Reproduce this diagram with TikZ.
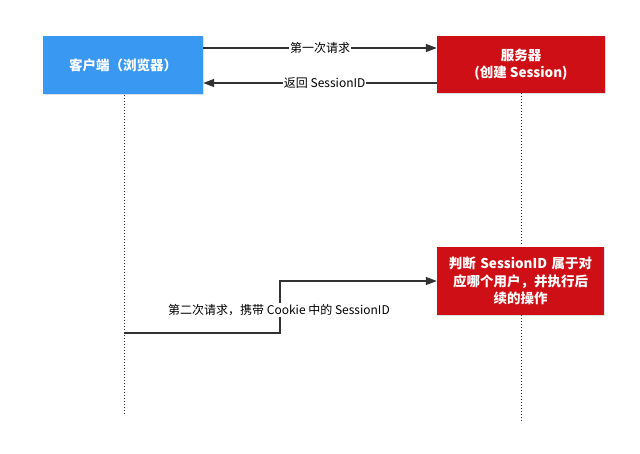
\documentclass[tikz,border=0pt]{standalone}
\usepackage{fontspec}
\setmainfont{Noto Sans CJK SC}
\usetikzlibrary{arrows.meta,shadows}
\definecolor{cblue}{RGB}{56,152,242}
\definecolor{sred}{RGB}{206,16,22}
\definecolor{lineg}{RGB}{50,50,50}
\tikzset{
  boxstyle/.style={draw=none, minimum width=#1, align=center, text=white, font=\fontsize{13.5}{17.5}\selectfont\bfseries,
    drop shadow={shadow xshift=0.8pt, shadow yshift=-0.8pt, opacity=0.25}},
  lifeline/.style={draw=lineg, line width=1pt, dotted},
  msg/.style={draw=lineg, line width=1.3pt, -{Triangle[length=11pt,width=8pt]}},
  lbl/.style={fill=white, inner sep=1pt, font=\fontsize{12}{14}\selectfont, text=black}
}
\begin{document}
\begin{tikzpicture}[x=1pt,y=-1pt]
\useasboundingbox[fill=white] (0,0) rectangle (640,453);
\node[boxstyle=160pt, minimum height=58pt, fill=cblue] (client) at (123,65) {客户端（浏览器）};
\node[boxstyle=168pt, minimum height=57pt, fill=sred] (server) at (521,64.5) {服务器\\(创建 Session)};
\node[boxstyle=167pt, minimum height=68pt, fill=sred, text width=160pt, inner sep=0pt] (judge) at (520.5,281) {判断 SessionID 属于对\\应哪个用户，并执行后\\续的操作};
\coordinate (cend) at (124,415);
\coordinate (send) at (521,423);
\draw[lifeline] (124,95) -- (cend);
\draw[lifeline] (521,93) -- (521,246);
\draw[lifeline] (521,315) -- (send);
\draw[msg] (client.east |- 0,48) -- node[lbl]{第一次请求} (server.west |- 0,48);
\draw[msg] (server.west |- 0,83) -- node[lbl, pos=0.48]{返回 SessionID} (client.east |- 0,83);
\coordinate (s3) at (124,333);
\draw[msg] (s3) -- (280,333) -- (280,281) -- (judge.west);
\node[lbl] (l3) at (279,310) {第二次请求，携带 Cookie 中的 SessionID};
\end{tikzpicture}
\end{document}
